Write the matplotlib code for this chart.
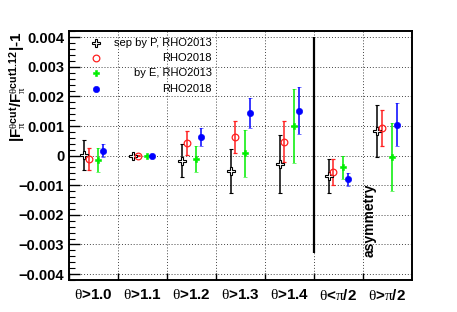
import numpy as np
import matplotlib
matplotlib.use("Agg")
import matplotlib.pyplot as plt
from matplotlib.ticker import MultipleLocator, FuncFormatter

plt.rcParams['font.family'] = ['Liberation Sans', 'DejaVu Sans']
plt.rcParams['mathtext.fontset'] = 'custom'
plt.rcParams['mathtext.rm'] = 'Liberation Serif'
plt.rcParams['mathtext.it'] = 'Liberation Serif:italic'
plt.rcParams['mathtext.bf'] = 'Liberation Sans:bold'

categories = [r'$\mathrm{\theta}$>1.0', r'$\mathrm{\theta}$>1.1', r'$\mathrm{\theta}$>1.2',
              r'$\mathrm{\theta}$>1.3', r'$\mathrm{\theta}$>1.4',
              r'$\mathrm{\theta}$<$\mathrm{\pi}$/2', r'$\mathrm{\theta}$>$\mathrm{\pi}$/2']

# values and errors
p2013 = [0.00003, -0.00001, -0.00017, -0.00052, -0.00028, -0.00068, 0.00082]
p2013_err = [0.00051, 0.00003, 0.00055, 0.00075, 0.00099, 0.00058, 0.00088]
p2018 = [-0.00012, 0.0, 0.00042, 0.00063, 0.00047, -0.00055, 0.00093]
p2018_err = [0.00037, 0.00002, 0.00041, 0.00055, 0.00069, 0.00043, 0.00062]
e2013 = [-0.00015, 0.0, -0.00011, 0.00008, 0.00100, -0.00040, -0.00005]
e2013_err = [0.00040, 0.00002, 0.00045, 0.00080, 0.00124, 0.00040, 0.00115]
e2018 = [0.00017, 0.0, 0.00062, 0.00145, 0.00152, -0.00080, 0.00105]
e2018_err = [0.00022, 0.00002, 0.00031, 0.00051, 0.00079, 0.00023, 0.00072]

labels = ['sep by P, RHO2013', 'RHO2018', 'by E, RHO2013', 'RHO2018']
offsets = [0.3, 0.4, 0.6, 0.7]
styles = [dict(color='black', marker='P', mfc='white', mec='black', ms=5.2, mew=0.8),
          dict(color='#ff2020', marker='o', mfc='none', mec='#ff2020', ms=4.8, mew=0.9),
          dict(color='#00ee00', marker='P', mfc='#00ee00', mec='#00ee00', ms=5.0, mew=0.4),
          dict(color='#0000ff', marker='o', mfc='#0000ff', mec='#0000ff', ms=4.6, mew=0.4)]
series = [(p2013, p2013_err), (p2018, p2018_err), (e2013, e2013_err), (e2018, e2018_err)]

fig = plt.figure(figsize=(4.57, 3.12), dpi=100)
ax = fig.add_axes([0.151, 0.1026, 0.750, 0.797])

x = np.arange(len(categories))
for (vals, errs), off, st in zip(series, offsets, styles):
    ax.errorbar(x + off, vals, yerr=errs, ls='none', elinewidth=1.1, capsize=1.2,
                capthick=0.9, zorder=3, **st)

# legend, right-aligned text like the ROOT one
for i, (lab, st) in enumerate(zip(labels, styles)):
    yy = 0.955 - i * 0.062
    ax.plot([0.078], [yy], transform=ax.transAxes, ls='none', clip_on=False, **st)
    ax.text(0.416, yy, lab, transform=ax.transAxes, ha='right', va='center', fontsize=8)

# separator between symmetric cuts and asymmetry
ax.vlines(5, -0.0033, 0.004, color='black', lw=1.6, zorder=2)
ax.text(6.13, -0.00218, 'asymmetry', rotation=90, ha='center', va='center',
        fontsize=10, fontweight='bold')

ax.set_xlim(0, 7)
ax.set_ylim(-0.0042, 0.0042)
ax.set_xticks(x)
ax.set_xticks(x + 0.5, minor=True)
ax.set_xticklabels([])
ax.set_xticklabels(categories, minor=True, fontsize=11, fontweight='bold')
ax.tick_params(axis='x', which='minor', length=0, pad=6)
ax.tick_params(axis='x', which='major', direction='in', length=5, width=1.0, top=False)

ax.yaxis.set_major_locator(MultipleLocator(0.001))
ax.yaxis.set_minor_locator(MultipleLocator(0.0002))
ax.yaxis.set_major_formatter(FuncFormatter(
    lambda v, p: '0' if abs(v) < 1e-9 else ('%.3f' % v).replace('-', '\u2212')))
ax.tick_params(axis='y', which='major', direction='in', length=8, width=1.0,
               labelsize=10.5, right=False)
ax.tick_params(axis='y', which='minor', direction='in', length=4, width=0.8, right=False)
for lab in ax.get_yticklabels():
    lab.set_fontweight('bold')

ax.grid(True, which='major', color='#444444', ls=(0, (1, 2)), lw=0.7)
for sp in ax.spines.values():
    sp.set_linewidth(1.4)

ax.set_ylabel('|F' + r'$_{\mathrm{\pi}}^{\mathrm{\theta}\mathbf{cut}}$' + '/F'
              + r'$_{\mathrm{\pi}}^{\mathrm{\theta}\mathbf{cut1.12}}$' + '|-1',
              fontsize=11, fontweight='bold', loc='top')
ax.yaxis.set_label_coords(-0.118, 1.0)

fig.savefig('out.png', dpi=100)
